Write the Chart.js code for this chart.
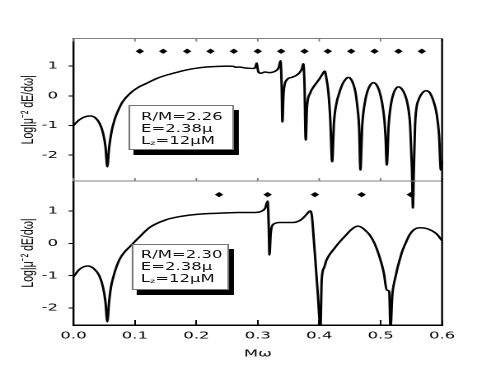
<!DOCTYPE html>
<html>
<head>
<meta charset="utf-8">
<script src="https://cdn.jsdelivr.net/npm/chart.js@4.4.1/dist/chart.umd.min.js"></script>
<style>
  html, body { margin: 0; padding: 0; background: #fff; overflow: hidden; }
  /* the reference figure is stretched sideways, so the whole drawing is too */
  #wrap { position: absolute; left: 0; top: 0; width: 298px; height: 382px;
          transform: scaleX(1.6477); transform-origin: 0 0; }
  #c { position: absolute; left: 0; top: 0; }
  .tag { position: absolute; box-sizing: border-box; background: #fff;
         border: 1px solid #777; box-shadow: 3px 5px 0 #000;
         font: 10px/11.8px "DejaVu Sans", sans-serif; color: #111; white-space: nowrap; }
  .tag sub { font-size: 60%; line-height: 0; vertical-align: -1px; }
</style>
</head>
<body>
<div id="wrap">
  <canvas id="c" width="298" height="382"></canvas>
  <div class="tag" style="left:77.9px;top:105px;width:63.7px;height:45px;padding:5px 0 0 6.7px">R/M=2.26<br>E=2.38μ<br>L<sub>z</sub>=12μM</div>
  <div class="tag" style="left:80.3px;top:244px;width:58.3px;height:46px;padding:4px 0 0 4.2px">R/M=2.30<br>E=2.38μ<br>L<sub>z</sub>=12μM</div>
</div>
<script>
// Spectre d'énergie émise, deux rayons d'orbite.

// --- panneau du haut : R/M = 2.26 ---
const topMw = [0.000, 0.010, 0.020, 0.028, 0.036, 0.043, 0.048, 0.052, 0.055, 0.058, 0.062, 0.067,
  0.073, 0.080, 0.092, 0.105, 0.119, 0.135, 0.152, 0.170, 0.184, 0.200, 0.217, 0.235, 0.250, 0.260,
  0.265, 0.270, 0.278, 0.285, 0.292, 0.296, 0.298, 0.301, 0.305, 0.312, 0.318, 0.325, 0.330, 0.334,
  0.337, 0.339, 0.340, 0.342, 0.347, 0.355, 0.362, 0.368, 0.372, 0.374, 0.376, 0.378, 0.380, 0.385,
  0.390, 0.395, 0.400, 0.405, 0.409, 0.412, 0.415, 0.418, 0.421, 0.424, 0.428, 0.433, 0.438, 0.443,
  0.447, 0.451, 0.455, 0.459, 0.462, 0.465, 0.467, 0.470, 0.474, 0.478, 0.483, 0.488, 0.493, 0.498,
  0.502, 0.506, 0.508, 0.510, 0.513, 0.517, 0.521, 0.525, 0.529, 0.534, 0.539, 0.544, 0.548, 0.551,
  0.5525, 0.554, 0.556, 0.558, 0.562, 0.568, 0.574, 0.580, 0.586, 0.591, 0.595, 0.598, 0.600];
const topLog = [-1.00, -0.80, -0.70, -0.68, -0.75, -0.95, -1.25, -1.70, -2.39, -1.75, -1.20, -0.80,
  -0.48, -0.20, 0.08, 0.28, 0.42, 0.58, 0.70, 0.80, 0.87, 0.93, 0.97, 0.99, 1.00, 0.99,
  0.96, 0.97, 0.94, 0.93, 0.92, 0.95, 1.10, 0.80, 0.76, 0.80, 0.78, 0.80, 0.85, 0.95,
  1.18, 0.20, -0.88, 0.10, 0.53, 0.62, 0.68, 0.78, 0.92, 1.08, 0.40, -1.49, -0.40, 0.08,
  0.28, 0.42, 0.56, 0.72, 0.83, 0.55, 0.10, -0.80, -2.22, -0.90, -0.26, 0.12, 0.40, 0.56,
  0.62, 0.58, 0.42, 0.12, -0.35, -1.10, -2.50, -1.00, -0.26, 0.12, 0.36, 0.44, 0.38, 0.15,
  -0.20, -0.80, -1.40, -2.33, -1.00, -0.26, 0.08, 0.25, 0.30, 0.24, 0.06, -0.30, -1.00, -2.50,
  -3.78, -2.50, -1.00, -0.45, -0.12, 0.10, 0.17, 0.10, -0.18, -0.59, -1.30, -2.50, -2.20];
const topMarks = [0.108, 0.146, 0.185, 0.223, 0.261, 0.300, 0.338, 0.376, 0.414, 0.452, 0.490, 0.529, 0.567];

// --- panneau du bas : R/M = 2.30 ---
const botMw = [0.000, 0.010, 0.023, 0.033, 0.042, 0.048, 0.052, 0.055, 0.058, 0.061, 0.065, 0.070,
  0.076, 0.084, 0.092, 0.105, 0.125, 0.150, 0.175, 0.205, 0.240, 0.270, 0.295, 0.305, 0.312, 0.316,
  0.318, 0.319, 0.321, 0.325, 0.336, 0.357, 0.370, 0.376, 0.382, 0.385, 0.388, 0.390, 0.394, 0.398,
  0.402, 0.404, 0.408, 0.412, 0.425, 0.435, 0.444, 0.452, 0.458, 0.463, 0.469, 0.476, 0.482, 0.490,
  0.498, 0.505, 0.510, 0.514, 0.516, 0.519, 0.523, 0.534, 0.541, 0.547, 0.553, 0.558, 0.563, 0.570,
  0.577, 0.585, 0.592, 0.600];
const botLog = [-1.03, -0.80, -0.70, -0.78, -1.00, -1.35, -1.80, -2.42, -1.80, -1.35, -1.03, -0.72,
  -0.46, -0.25, -0.10, 0.15, 0.50, 0.72, 0.83, 0.90, 0.93, 0.95, 0.95, 0.98, 1.08, 1.30,
  0.40, -0.36, 0.30, 0.58, 0.64, 0.64, 0.72, 0.82, 0.95, 1.00, 0.85, 0.41, -0.60, -1.65,
  -2.60, -1.13, -0.75, -0.51, -0.15, 0.08, 0.26, 0.42, 0.50, 0.53, 0.49, 0.38, 0.26, 0.00,
  -0.41, -0.90, -1.44, -1.49, -2.60, -1.60, -1.13, -0.31, 0.02, 0.26, 0.40, 0.46, 0.48, 0.47,
  0.44, 0.37, 0.27, 0.08];
const botMarks = [0.237, 0.316, 0.393, 0.469, 0.549];

const markLevel = 1.5;
const yTitle = 'Log|μ⁻² dE/dω|';

const pts = (xs, ys) => xs.map((x, i) => ({ x, y: ys[i] }));
const marks = (xs) => xs.map((x) => ({ x, y: markLevel }));

const tickFont = { family: 'DejaVu Sans', size: 10 };
const titleFont = { family: 'Liberation Sans', size: 10.5 };
const onlyWhole = (v) => (Math.abs(v - Math.round(v)) < 1e-6 ? String(Math.round(v)) : null);

const yAxis = (min, max, weight) => ({
  type: 'linear',
  position: 'left',
  stack: 'panels',
  stackWeight: weight,
  min, max,
  ticks: { stepSize: 0.5, includeBounds: false, padding: 6.4, color: '#000', font: tickFont, callback: onlyWhole },
  grid: { drawOnChartArea: false, tickLength: 3, tickColor: '#000', tickWidth: 1 },
  border: { color: '#000', width: 1.2 },
  title: { display: true, text: yTitle, color: '#000', font: titleFont, padding: { top: 11, bottom: 0 } },
  afterFit: (s) => { s.width = 44.6; },
});

// cadre : bord haut, séparation entre panneaux (gris) et bord droit
const frame = {
  id: 'frame',
  afterDatasetsDraw(chart) {
    const { ctx, chartArea: a, scales: { x, yTop } } = chart;
    const sep = yTop.bottom;
    ctx.save();
    ctx.strokeStyle = '#808080';
    ctx.lineWidth = 1;
    ctx.beginPath();
    ctx.moveTo(a.left, a.top); ctx.lineTo(a.right, a.top);
    ctx.moveTo(a.left, sep); ctx.lineTo(a.right, sep);
    x.ticks.forEach((t) => {
      const px = x.getPixelForValue(t.value);
      ctx.moveTo(px, a.top); ctx.lineTo(px, a.top + 3);
      ctx.moveTo(px, sep); ctx.lineTo(px, sep - 3);
    });
    ctx.stroke();
    ctx.strokeStyle = '#000';
    ctx.lineWidth = 1.2;
    ctx.beginPath();
    ctx.moveTo(a.right, a.top); ctx.lineTo(a.right, a.bottom);
    ctx.stroke();
    ctx.restore();
  },
};

new Chart(document.getElementById('c'), {
  type: 'line',
  data: {
    datasets: [
      { data: pts(topMw, topLog), yAxisID: 'yTop', borderColor: '#000', borderWidth: 1.5,
        pointRadius: 0, cubicInterpolationMode: 'monotone', clip: false },
      { data: pts(botMw, botLog), yAxisID: 'yBot', borderColor: '#000', borderWidth: 1.5,
        pointRadius: 0, cubicInterpolationMode: 'monotone' },
      { data: marks(topMarks), yAxisID: 'yTop', showLine: false, pointStyle: 'rectRot',
        pointRadius: 2.6, backgroundColor: '#000', borderColor: '#000', borderWidth: 0 },
      { data: marks(botMarks), yAxisID: 'yBot', showLine: false, pointStyle: 'rectRot',
        pointRadius: 2.6, backgroundColor: '#000', borderColor: '#000', borderWidth: 0 },
    ],
  },
  options: {
    responsive: false,
    devicePixelRatio: 2,
    animation: false,
    layout: { padding: { left: 0, right: 29.7, top: 38.5, bottom: 0 } },
    plugins: { legend: { display: false }, tooltip: { enabled: false } },
    scales: {
      x: {
        type: 'linear',
        position: 'bottom',
        min: 0, max: 0.6,
        ticks: {
          stepSize: 0.05, autoSkip: false, maxRotation: 0, padding: 10, color: '#000', font: tickFont,
          callback: (v) => (Math.abs(v * 10 - Math.round(v * 10)) < 1e-6 ? v.toFixed(1) : null),
        },
        grid: { drawOnChartArea: false, tickLength: -5, tickColor: '#000', tickWidth: 1 },
        border: { color: '#000', width: 1.5 },
        title: { display: true, text: 'Mω', color: '#000', font: { family: 'DejaVu Sans', size: 10 }, padding: { top: 0, bottom: 22 } },
        afterFit: (s) => { s.height = 57; },
      },
      yBot: yAxis(-2.52, 1.92, 144),
      yTop: yAxis(-2.87, 1.93, 142.5),
    },
  },
  plugins: [frame],
});
</script>
</body>
</html>
